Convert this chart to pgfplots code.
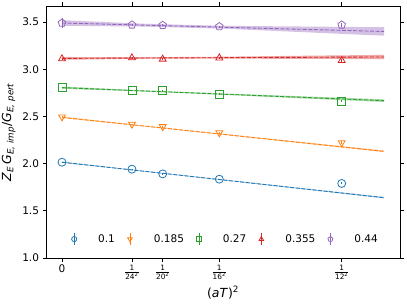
\documentclass[border=0pt]{standalone}
\usepackage{fontspec}
\setmainfont{DejaVu Sans}
\usepackage{amsmath}
\usepackage{pgfplots}
\pgfplotsset{compat=1.18}
\usetikzlibrary{plotmarks}
\definecolor{c0}{HTML}{1F77B4}
\definecolor{c1}{HTML}{FF7F0E}
\definecolor{c2}{HTML}{2CA02C}
\definecolor{c3}{HTML}{D62728}
\definecolor{c4}{HTML}{9467BD}
\pgfplotsset{
  band/.style={draw=none, fill opacity=0.4, forget plot},
  fitline/.style={dashed, dash pattern=on 4pt off 1.6pt, line width=0.9pt, forget plot},
  datapt/.style={only marks, mark size=4pt, line width=0.8pt, mark options={solid, fill=none},
    error bars/y dir=both, error bars/y explicit, error bars/error bar style={line width=0.8pt}, error bars/error mark=none},
}
\begin{document}
\begin{tikzpicture}
\begin{axis}[name=ax,
  scale only axis, width=354pt, height=252pt,
  xmin=-0.000397, xmax=0.008392, ymin=1, ymax=3.67,
  ytick={1,1.5,2,2.5,3,3.5},
  yticklabel style={/pgf/number format/.cd, fixed, fixed zerofill, precision=1},
  xtick={0,0.00173611,0.0025,0.00390625,0.00694444},
  xticklabels={0, $\frac{\text{1}}{\text{24}^{\text{2}}}$, $\frac{\text{1}}{\text{20}^{\text{2}}}$, $\frac{\text{1}}{\text{16}^{\text{2}}}$, $\frac{\text{1}}{\text{12}^{\text{2}}}$},
  scaled x ticks=false,
  tick align=outside, major tick length=3.5pt,
  tick style={black, line width=0.8pt}, axis line style={line width=0.8pt},
  /pgf/number format/assume math mode=true,
  ticklabel style={font=\fontsize{10.5}{12}\selectfont},
  xlabel={(\textit{aT})\textsuperscript{2}},
  ylabel={\textit{Z}\textsubscript{\textit{E}}\,\textit{G}\textsubscript{\textit{E, imp}}/\textit{G}\textsubscript{\textit{E, pert}}},
  label style={font=\fontsize{12.5}{14}\selectfont},
  legend columns=5,
  legend style={at={(0.5,0.075)}, anchor=center, draw=none, fill=none,
    font=\fontsize{10.5}{12}\selectfont,
    /tikz/every odd column/.append style={column sep=14pt},
    /tikz/every even column/.append style={column sep=5pt}},
  legend image code/.code={
    \draw[#1, mark=none] (0pt,-6pt) -- (0pt,6pt);
    \draw[#1, only marks, mark size=2.6pt] plot coordinates {(0pt,0pt)};
    \path[draw=none] (-8pt,0pt) -- (8pt,0pt);
  },
]
% bands
\addplot[band, fill=c0] coordinates {(0,2.021) (0.002,1.924) (0.004,1.831) (0.006,1.738) (0.008,1.646) (0.008,1.632) (0.006,1.728) (0.004,1.823) (0.002,1.918) (0,2.009)};
\addplot[band, fill=c1] coordinates {(0,2.498) (0.002,2.404) (0.004,2.315) (0.006,2.227) (0.008,2.139) (0.008,2.121) (0.006,2.213) (0.004,2.305) (0.002,2.396) (0,2.482)};
\addplot[band, fill=c2] coordinates {(0,2.817) (0.002,2.7765) (0.004,2.743) (0.006,2.7125) (0.008,2.681) (0.008,2.653) (0.006,2.6905) (0.004,2.729) (0.002,2.7645) (0,2.793)};
\addplot[band, fill=c3] coordinates {(0,3.130) (0.002,3.127) (0.004,3.133) (0.006,3.143) (0.008,3.152) (0.008,3.108) (0.006,3.109) (0.004,3.113) (0.002,3.111) (0,3.100)};
\addplot[band, fill=c4] coordinates {(0,3.520) (0.002,3.4825) (0.004,3.460) (0.006,3.4525) (0.008,3.445) (0.008,3.355) (0.006,3.3925) (0.004,3.430) (0.002,3.4525) (0,3.460)};
% fit lines
\addplot[fitline, c0] coordinates {(0,2.015) (0.008,1.639)};
\addplot[fitline, c1] coordinates {(0,2.490) (0.008,2.130)};
\addplot[fitline, c2] coordinates {(0,2.805) (0.008,2.667)};
\addplot[fitline, c3] coordinates {(0,3.115) (0.008,3.130)};
\addplot[fitline, c4] coordinates {(0,3.490) (0.008,3.400)};
% data
\addplot[c0, mark=o, datapt] coordinates {
  (0,2.015) +- (0,0.006)
  (0.00173611,1.941) +- (0,0.005)
  (0.0025,1.891) +- (0,0.005)
  (0.00390625,1.835) +- (0,0.005)
  (0.00694444,1.790) +- (0,0.01)
};
\addlegendentry{0.1}
\addplot[c1, mark=triangle, datapt, mark options={rotate=180}] coordinates {
  (0,2.495) +- (0,0.006)
  (0.00173611,2.418) +- (0,0.006)
  (0.0025,2.392) +- (0,0.006)
  (0.00390625,2.327) +- (0,0.006)
  (0.00694444,2.222) +- (0,0.015)
};
\addlegendentry{0.185}
\addplot[c2, mark=square, datapt] coordinates {
  (0,2.808) +- (0,0.006)
  (0.00173611,2.776) +- (0,0.006)
  (0.0025,2.772) +- (0,0.006)
  (0.00390625,2.737) +- (0,0.006)
  (0.00694444,2.663) +- (0,0.01)
};
\addlegendentry{0.27}
\addplot[c3, mark=triangle, datapt] coordinates {
  (0,3.111) +- (0,0.01)
  (0.00173611,3.121) +- (0,0.008)
  (0.0025,3.107) +- (0,0.008)
  (0.00390625,3.120) +- (0,0.008)
  (0.00694444,3.093) +- (0,0.02)
};
\addlegendentry{0.355}
\addplot[c4, mark=pentagon, datapt] coordinates {
  (0,3.490) +- (0,0.05)
  (0.00173611,3.470) +- (0,0.01)
  (0.0025,3.466) +- (0,0.01)
  (0.00390625,3.452) +- (0,0.01)
  (0.00694444,3.470) +- (0,0.025)
};
\addlegendentry{0.44}
\end{axis}
\pgfresetboundingbox
\path ([shift={(-46pt,-47pt)}]ax.south west) rectangle ([shift={(7pt,6pt)}]ax.north east);
\end{tikzpicture}
\end{document}
